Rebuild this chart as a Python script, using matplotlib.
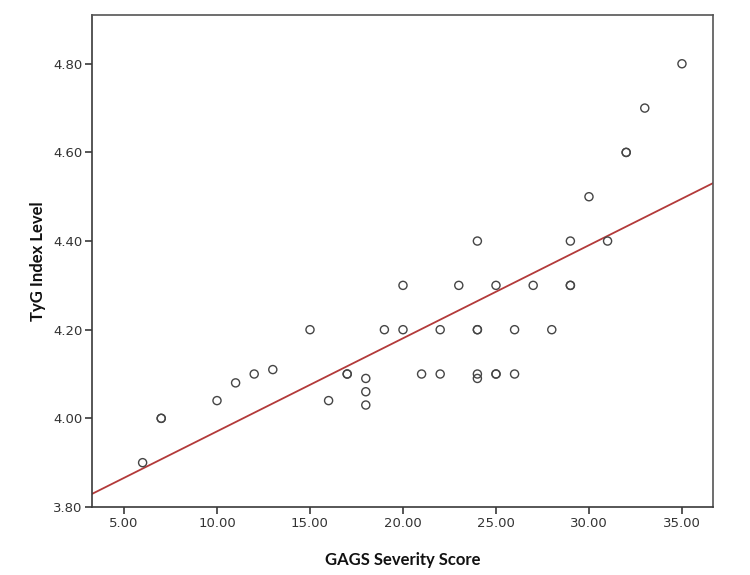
import numpy as np
import matplotlib
matplotlib.use('Agg')
import matplotlib.pyplot as plt

# GAGS severity score vs TyG index
gags_score = [6, 7, 7, 10, 11, 12, 13, 15, 16, 17, 17,
              18, 18, 18, 19, 20, 20, 21, 22, 22, 23,
              24, 24, 24, 24, 24, 25, 25, 25, 26, 26,
              27, 28, 29, 29, 29, 30, 31, 32, 32, 33, 35]
tyg_index = [3.90, 4.00, 4.00, 4.04, 4.08, 4.10, 4.11, 4.20, 4.04, 4.10, 4.10,
             4.09, 4.06, 4.03, 4.20, 4.20, 4.30, 4.10, 4.10, 4.20, 4.30,
             4.40, 4.20, 4.20, 4.10, 4.09, 4.30, 4.10, 4.10, 4.20, 4.10,
             4.30, 4.20, 4.40, 4.30, 4.30, 4.50, 4.40, 4.60, 4.60, 4.70, 4.80]

x_ticks = [5, 10, 15, 20, 25, 30, 35]
y_ticks = [3.80, 4.00, 4.20, 4.40, 4.60, 4.80]

tick_font = ['Liberation Sans Narrow', 'DejaVu Sans']
label_font = ['Lato', 'DejaVu Sans']
dark = '#3a3a3a'

fig = plt.figure(figsize=(7.5, 5.75), dpi=100)
ax = fig.add_axes([0.1227, 0.1183, 0.828, 0.8556])

ax.scatter(gags_score, tyg_index, s=34, facecolors='none',
           edgecolors='#454545', linewidths=1.0, zorder=3)

# least squares fit line across the whole axis
xlim = (3.28, 36.67)
slope, icept = np.polyfit(gags_score, tyg_index, 1)
fx = np.array(xlim)
ax.plot(fx, icept + slope * fx, color='#b33a3a', lw=1.3, zorder=2)

ax.set_xlim(*xlim)
ax.set_ylim(3.80, 4.91)
ax.set_xticks(x_ticks)
ax.set_yticks(y_ticks)
ax.set_xticklabels(['{:.2f}'.format(v) for v in x_ticks], family=tick_font,
                   fontsize=9.5, color='#333333')
ax.set_yticklabels(['{:.2f}'.format(v) for v in y_ticks], family=tick_font,
                   fontsize=9.5, color='#333333')
ax.tick_params(direction='out', length=5, width=1.2, color=dark, pad=2,
               top=False, right=False)

for side in ['left', 'bottom', 'top', 'right']:
    ax.spines[side].set_color(dark)
    ax.spines[side].set_linewidth(1.2)
ax.spines['top'].set_color('#555555')
ax.spines['right'].set_color('#555555')

ax.set_xlabel('GAGS Severity Score', family=label_font, fontweight='bold',
              fontsize=12, color='#111111', labelpad=16)
ax.set_ylabel('TyG Index Level', family=label_font, fontweight='bold',
              fontsize=12, color='#111111', labelpad=5)

fig.savefig('out.png', dpi=100, facecolor='white')
